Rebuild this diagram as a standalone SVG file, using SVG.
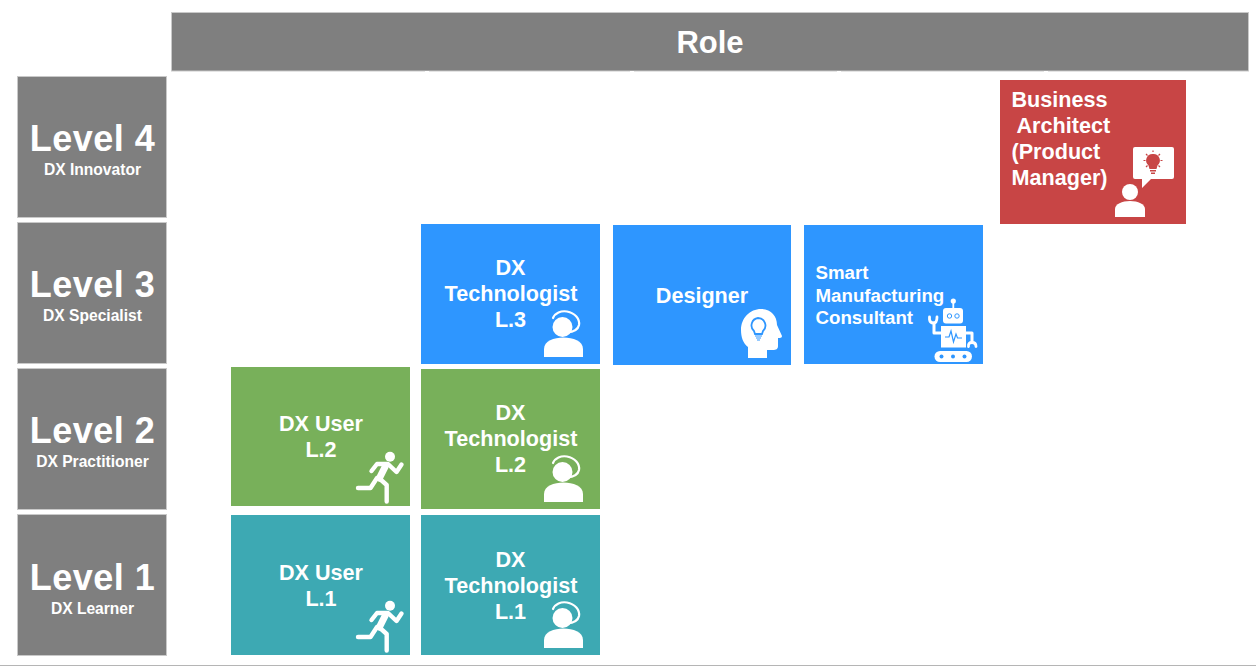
<svg xmlns="http://www.w3.org/2000/svg" width="1256" height="666" viewBox="0 0 1256 666">
<style>
text{font-family:"Liberation Sans",Arial,sans-serif;font-weight:700;fill:#fff}
.c{text-anchor:middle}
.hd{fill:#7f7f7f;stroke:#c9c9c9;stroke-width:1}
.lv{font-size:36px;letter-spacing:.5px}
.sub{font-size:15.6px}
.t{font-size:21.6px}
.blue{fill:#2e96ff}.green{fill:#78b05a}.teal{fill:#3da9b3}.red{fill:#c84545}
.w{fill:#fff}
.ws{fill:none;stroke:#fff;stroke-linecap:round;stroke-linejoin:round}
</style>
<defs>
<g id="tech">
<circle class="w" cx="562.500" cy="472" r="10"/>
<path class="ws" stroke-width="2.200" d="M553 463C555 458 561 455.500 567 456.500C575 458 580 464 579 470C578 475 573 477 567 477.500"/>
<path class="w" d="M544 502V494C544 486 554 482.500 563.500 482.500S583 486 583 494V502Z"/>
</g>
<g id="runner">
<circle class="w" cx="390" cy="456.700" r="5"/>
<path class="ws" stroke-width="4.400" d="M371.500 471L377 464H388L396.500 472L401.500 464.500M380 479L386.700 485V501.500M377 478L370.500 488H358"/>
<path class="ws" stroke-width="7" d="M385 467L379.500 478"/>
</g>
</defs>
<g id="connectors"/>
<g id="role"><rect class="hd" x="171.500" y="12.500" width="1077" height="58.500"/><text class="c" x="710" y="53" font-size="31px">Role</text>
<path stroke="#fff" stroke-width="1" d="M425 71.500H429M630 71.500H634M837 71.500H841M1044 71.500H1048"/></g>
<g id="level4"><rect class="hd" x="17.500" y="76.500" width="149" height="141"/><text class="c lv" x="92.500" y="151">Level 4</text><text class="c sub" x="92.500" y="175">DX Innovator</text></g>
<g id="level3"><rect class="hd" x="17.500" y="222.500" width="149" height="141"/><text class="c lv" x="92.500" y="297">Level 3</text><text class="c sub" x="92.500" y="321">DX Specialist</text></g>
<g id="level2"><rect class="hd" x="17.500" y="368.500" width="149" height="141"/><text class="c lv" x="92.500" y="443">Level 2</text><text class="c sub" x="92.500" y="467">DX Practitioner</text></g>
<g id="level1"><rect class="hd" x="17.500" y="514.500" width="149" height="141"/><text class="c lv" x="92.500" y="590">Level 1</text><text class="c sub" x="92.500" y="614">DX Learner</text></g>
<g id="business-architect"><rect class="red" x="1000" y="80" width="186" height="144"/>
<text class="t"><tspan x="1011.500" y="107">Business</tspan><tspan x="1016.500" y="133">Architect</tspan><tspan x="1011.500" y="159">(Product</tspan><tspan x="1011.500" y="185">Manager)</tspan></text>
<path class="w" d="M1135 147H1172Q1174 147 1174 149V177Q1174 179 1172 179H1151L1142 188V179H1135Q1133 179 1133 177V149Q1133 147 1135 147Z"/>
<path fill="#c84545" d="M1153 154A6.500 6.500 0 0 1 1157.500 165.500L1156.500 169H1149.500L1148.500 165.500A6.500 6.500 0 0 1 1153 154ZM1150 170H1156V171.500H1150ZM1151 172.500H1155V174H1151Z"/>
<path fill="none" stroke="#c84545" stroke-width="1.200" d="M1153 150.500V152M1143.500 160.500H1145.500M1160.500 160.500H1162.500M1146 154L1147.500 155.500M1160 154L1158.500 155.500M1146 167L1147.500 165.500M1160 167L1158.500 165.500"/>
<circle class="w" cx="1130" cy="192" r="8"/>
<path class="w" d="M1115 217V209C1115 204 1122 201 1130 201S1145 204 1145 209V217Z"/>
</g>
<g id="tech-l3"><rect class="blue" x="421" y="224" width="179" height="140"/>
<text class="c t"><tspan x="510.500" y="275">DX</tspan><tspan x="511" y="301">Technologist</tspan><tspan x="510.500" y="327">L.3</tspan></text>
<use href="#tech" y="-145"/></g>
<g id="designer"><rect class="blue" x="613" y="225" width="178" height="140"/>
<text class="c t" x="702" y="303">Designer</text>
<path class="w" d="M748 358V347C743 343 741 337 741 330C741 318 750 309 761 309C771 309 777 316 777 325L782 336C782 338 780 338 778 338V346C778 349 776 350 773 350H767V358Z"/>
<path fill="none" stroke="#2e96ff" stroke-width="1.800" d="M758 318A7.500 7.500 0 0 1 763 331L762 334H755L754 331A7.500 7.500 0 0 1 758 318Z"/>
<path fill="none" stroke="#2e96ff" stroke-width="1.200" d="M755 336H762M756 338H761M757 340H760"/>
</g>
<g id="consultant"><rect class="blue" x="804" y="225" width="179" height="139"/>
<text font-size="18.700"><tspan x="815.500" y="279">Smart</tspan><tspan x="815.500" y="302">Manufacturing</tspan><tspan x="815.500" y="324">Consultant</tspan></text>
<circle class="w" cx="953.300" cy="301" r="2.600"/>
<path class="ws" stroke-width="1.800" d="M953.300 303V309"/>
<rect class="w" x="943" y="308" width="20" height="15.500" rx="3"/>
<circle class="w" stroke="#2e96ff" stroke-width="1" cx="949.500" cy="316" r="2.200"/><circle class="w" stroke="#2e96ff" stroke-width="1" cx="957" cy="316" r="2.200"/>
<rect class="w" x="941" y="326" width="25" height="21.500"/>
<path fill="none" stroke="#2e96ff" stroke-width="1.200" d="M945 337H949L951 331L953.500 342L956 334L957.500 338H962"/>
<path class="ws" stroke-width="3" d="M941 333H934V323M966 333H972V342"/>
<path class="ws" stroke-width="2.800" d="M929.500 317V319.500Q930 323 933.500 323Q937 323 937 317"/>
<path class="ws" stroke-width="2.800" d="M968.500 346.500Q968 342.500 972 342.500Q976 342.500 976 346.500"/>
<rect class="w" x="934.500" y="351" width="37.500" height="11" rx="5.500"/>
<circle fill="#2e96ff" cx="941.500" cy="356.500" r="2"/><circle fill="#2e96ff" cx="953" cy="356.500" r="2"/><circle fill="#2e96ff" cx="964.500" cy="356.500" r="2"/>
</g>
<g id="user-l2"><rect class="green" x="231" y="367" width="179" height="139"/>
<text class="c t"><tspan x="321" y="431">DX User</tspan><tspan x="321" y="457">L.2</tspan></text>
<use href="#runner"/></g>
<g id="tech-l2"><rect class="green" x="421" y="369" width="179" height="140"/>
<text class="c t"><tspan x="510.500" y="420">DX</tspan><tspan x="511" y="446">Technologist</tspan><tspan x="510.500" y="472">L.2</tspan></text>
<use href="#tech"/></g>
<g id="user-l1"><rect class="teal" x="231" y="515" width="179" height="140"/>
<text class="c t"><tspan x="321" y="580">DX User</tspan><tspan x="321" y="606">L.1</tspan></text>
<use href="#runner" y="149"/></g>
<g id="tech-l1"><rect class="teal" x="421" y="515" width="179" height="140"/>
<text class="c t"><tspan x="510.500" y="567">DX</tspan><tspan x="511" y="593">Technologist</tspan><tspan x="510.500" y="619">L.1</tspan></text>
<use href="#tech" y="146"/></g>
<rect x="0" y="665" width="1256" height="1" fill="#b5b5b5"/>
</svg>
